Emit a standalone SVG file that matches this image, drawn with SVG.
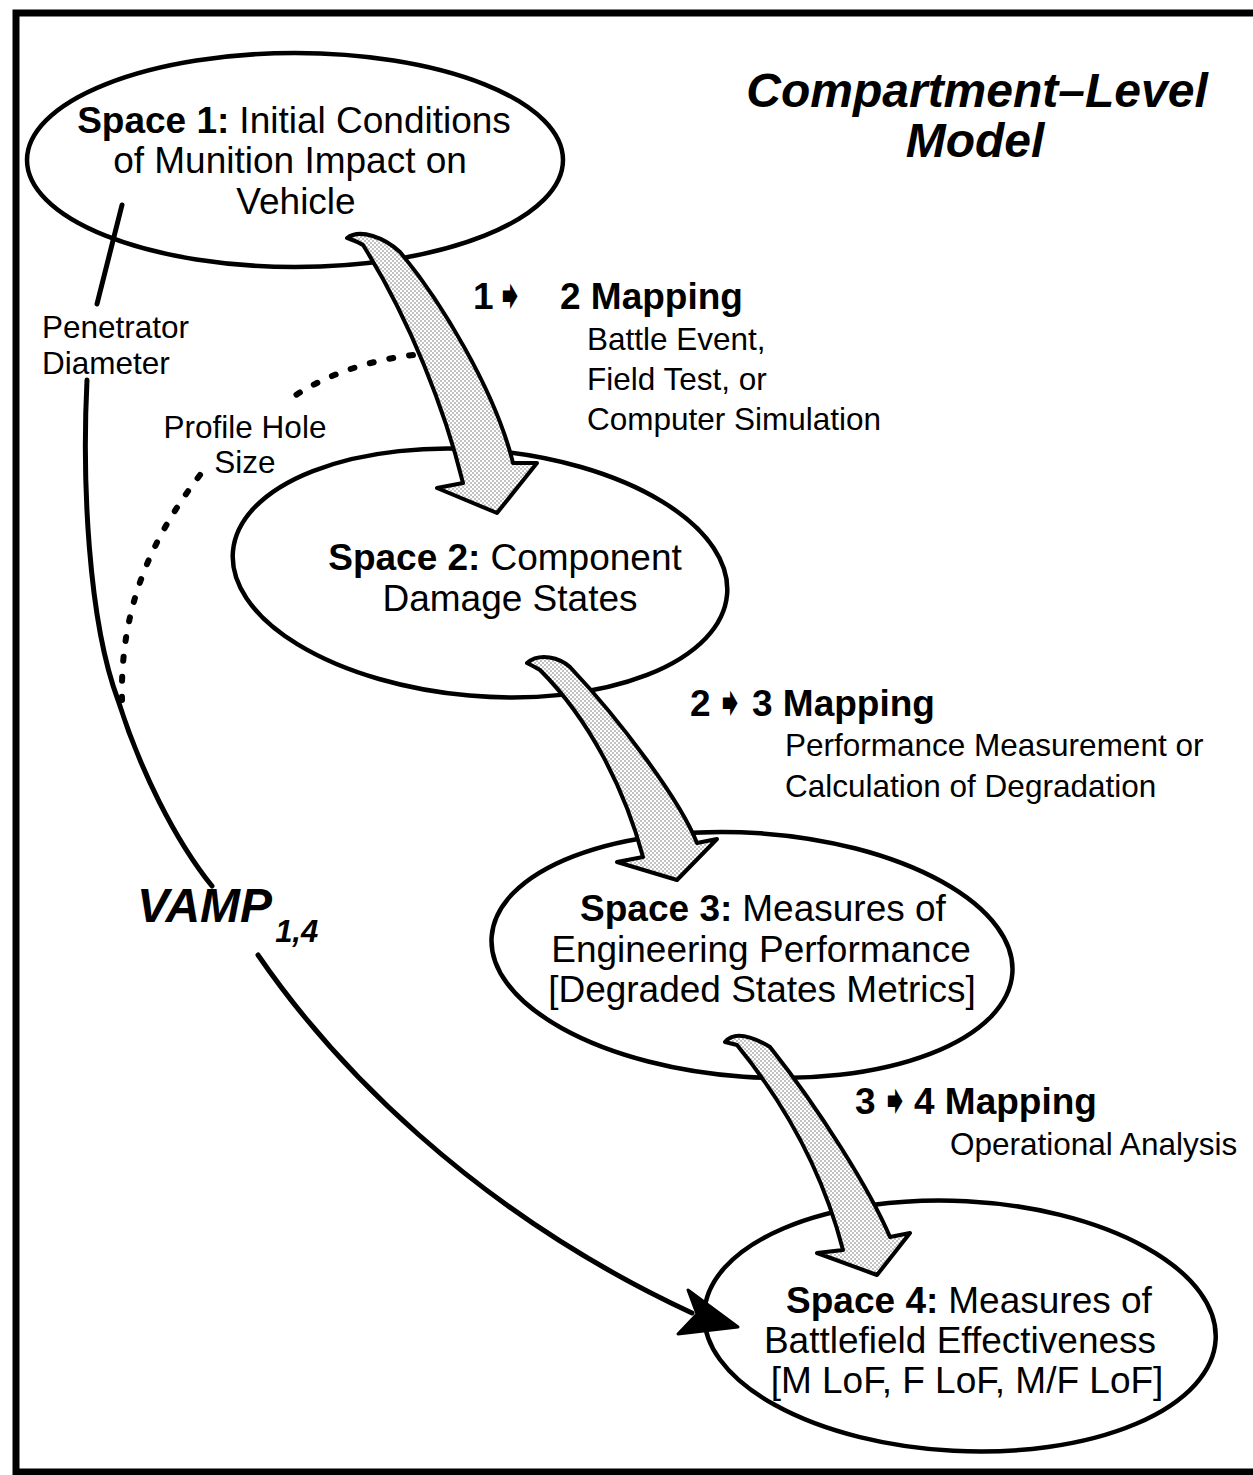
<svg xmlns="http://www.w3.org/2000/svg" width="1253" height="1475" viewBox="0 0 1253 1475">
<style>
.node{fill:none;stroke:#000;stroke-width:4.5}
.t{font-family:"Liberation Sans",Arial,sans-serif;fill:#000}
.big{font-size:37px}
.lab{font-size:31.5px}
.hdr{font-size:37px;font-weight:bold}
.b{font-weight:bold}
.ttl{font-size:48px;font-weight:bold;font-style:italic}
.fat{fill:url(#dots);stroke:#000;stroke-width:4;stroke-linejoin:round}
.line{fill:none;stroke:#000;stroke-width:5;stroke-linecap:round}
.dot{fill:none;stroke:#000;stroke-width:6;stroke-linecap:round;stroke-dasharray:4 16}
.sym{font-family:"DejaVu Sans",sans-serif;font-size:40px}
</style>
<defs>
<pattern id="dots" patternUnits="userSpaceOnUse" width="4" height="4">
<rect width="4" height="4" fill="#fff"/>
<circle cx="1" cy="1" r="0.75" fill="#666"/>
<circle cx="3" cy="3" r="0.75" fill="#666"/>
</pattern>
</defs>
<rect width="1253" height="1475" fill="#fff"/>
<path d="M1253,13 H16 V1472 H1253" fill="none" stroke="#000" stroke-width="7"/>

<g id="title">
<text class="t ttl" x="977" y="107" text-anchor="middle">Compartment–Level</text>
<text class="t ttl" x="975" y="157" text-anchor="middle">Model</text>
</g>

<g id="space1">
<ellipse class="node" cx="295" cy="160" rx="268" ry="107"/>
<text class="t big" x="294" y="133" text-anchor="middle"><tspan class="b">Space 1:</tspan><tspan dx="10">Initial Conditions</tspan></text>
<text class="t big" x="290" y="173" text-anchor="middle">of Munition Impact on</text>
<text class="t big" x="296" y="214" text-anchor="middle">Vehicle</text>
</g>

<g id="space2">
<ellipse class="node" cx="480" cy="573" rx="248" ry="123" transform="rotate(5 480 573)"/>
<text class="t big" x="505" y="570" text-anchor="middle"><tspan class="b">Space 2:</tspan><tspan dx="10">Component</tspan></text>
<text class="t big" x="510" y="611" text-anchor="middle">Damage States</text>
</g>

<g id="space3">
<ellipse class="node" cx="752" cy="955" rx="261" ry="122" transform="rotate(4 752 955)"/>
<text class="t big" x="763" y="921" text-anchor="middle"><tspan class="b">Space 3:</tspan><tspan dx="10">Measures of</tspan></text>
<text class="t big" x="761" y="962" text-anchor="middle">Engineering Performance</text>
<text class="t big" x="762" y="1002" text-anchor="middle">[Degraded States Metrics]</text>
</g>

<g id="space4">
<ellipse class="node" cx="960" cy="1326" rx="256" ry="125" transform="rotate(3 960 1326)"/>
<text class="t big" x="969" y="1313" text-anchor="middle"><tspan class="b">Space 4:</tspan><tspan dx="10">Measures of</tspan></text>
<text class="t big" x="960" y="1353" text-anchor="middle">Battlefield Effectiveness</text>
<text class="t big" x="967" y="1393" text-anchor="middle">[M LoF, F LoF, M/F LoF]</text>
</g>

<g id="connectors">
<path class="fat" d="M347,238 C360,228 385,238 400,252 C440,300 495,390 513,463 L537,463 L497,513 L437,488 L463,483 C445,410 410,320 363,245 C357,241 352,240 347,238 Z"/>
<path class="fat" d="M527,663 C540,652 560,658 570,667 C620,720 680,800 697,843 L717,839 L677,880 L617,862 L643,857 C625,790 590,720 540,670 C535,667 531,665 527,663 Z"/>
<path class="fat" d="M725,1042 C735,1030 755,1038 770,1047 C820,1110 870,1190 890,1237 L910,1233 L877,1275 L817,1253 L843,1250 C825,1180 790,1110 737,1045 C733,1044 729,1043 725,1042 Z"/>
<line class="line" x1="122" y1="205" x2="97" y2="304"/>
<path class="line" d="M87,380 C82,480 88,620 118,700 C140,770 175,840 212,886"/>
<path class="line" d="M258,955 C330,1060 470,1210 692,1313"/>
<path d="M738,1327 L688,1290 L697,1314 L678,1334 Z" fill="#000" stroke="#000" stroke-width="3" stroke-linejoin="round"/>
<path class="dot" d="M413,355 C370,360 325,375 293,397"/>
<path class="dot" d="M200,475 C150,540 120,610 122,700"/>
</g>

<g id="labels">
<text class="t lab" x="42" y="338">Penetrator</text>
<text class="t lab" x="42" y="374">Diameter</text>
<text class="t lab" x="245" y="438" text-anchor="middle">Profile Hole</text>
<text class="t lab" x="245" y="473" text-anchor="middle">Size</text>
<text class="t ttl" x="137" y="922">VAMP<tspan font-size="31" dy="20" dx="3">1,4</tspan></text>

<text class="t hdr" x="473" y="309">1</text>
<text class="t sym" x="510" y="309" text-anchor="middle">➧</text>
<text class="t hdr" x="560" y="309">2 Mapping</text>
<text class="t lab" x="587" y="350">Battle Event,</text>
<text class="t lab" x="587" y="390">Field Test, or</text>
<text class="t lab" x="587" y="430">Computer Simulation</text>

<text class="t hdr" x="690" y="716">2</text>
<text class="t sym" x="730" y="716" text-anchor="middle">➧</text>
<text class="t hdr" x="752" y="716">3 Mapping</text>
<text class="t lab" x="785" y="756">Performance Measurement or</text>
<text class="t lab" x="785" y="797">Calculation of Degradation</text>

<text class="t hdr" x="855" y="1114">3</text>
<text class="t sym" x="895" y="1114" text-anchor="middle">➧</text>
<text class="t hdr" x="914" y="1114">4 Mapping</text>
<text class="t lab" x="950" y="1155">Operational Analysis</text>
</g>
</svg>
